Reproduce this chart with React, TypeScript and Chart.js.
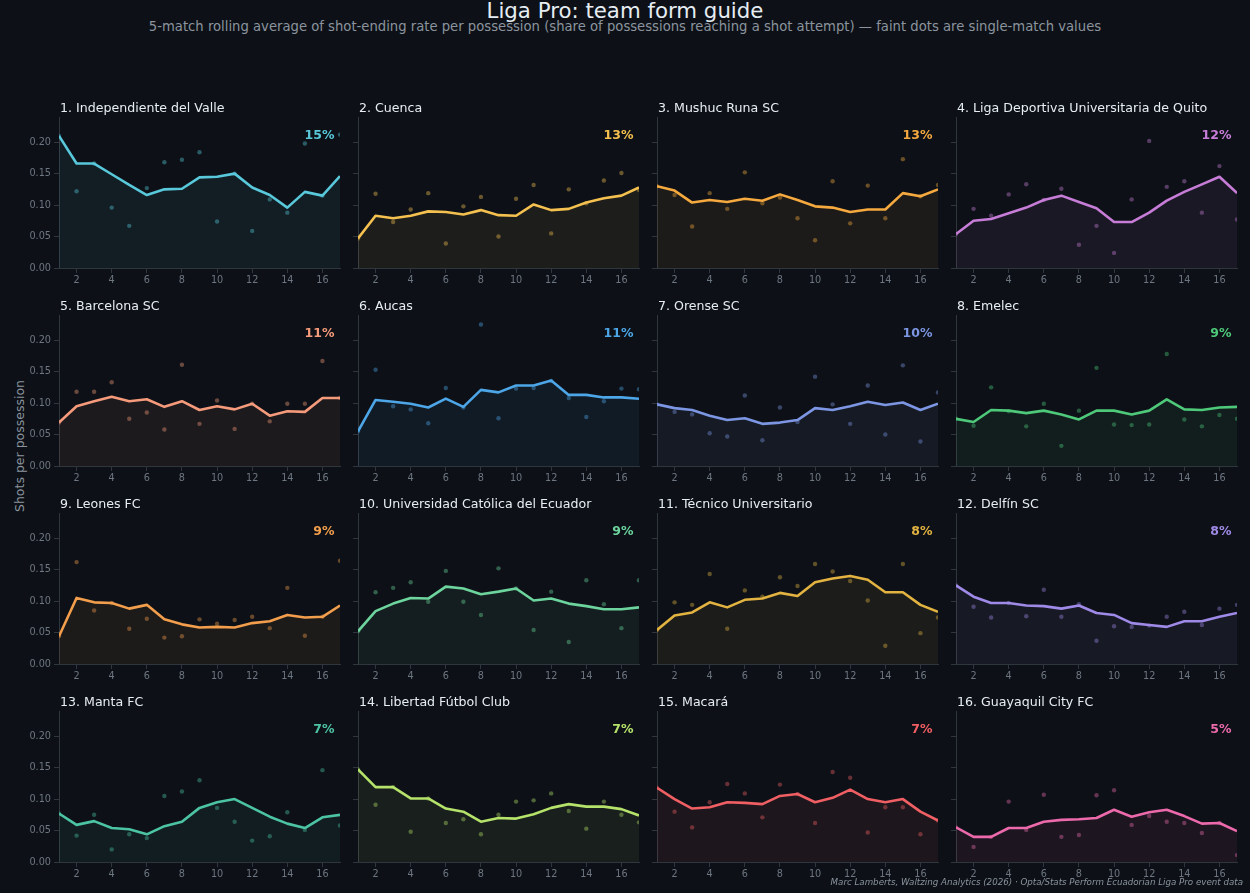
import React, { useEffect, useRef } from "react";
import { Chart, registerables } from "chart.js";

Chart.register(...registerables);

// ---------------- DATA ----------------
const MATCHDAYS = [1, 2, 3, 4, 5, 6, 7, 8, 9, 10, 11, 12, 13, 14, 15, 16, 17];
const X_TICKS = [2, 4, 6, 8, 10, 12, 14, 16];
const Y_TICKS = [0, 0.05, 0.1, 0.15, 0.2];

const TEAM_NAMES = [
  "1. Independiente del Valle",
  "2. Cuenca",
  "3. Mushuc Runa SC",
  "4. Liga Deportiva Universitaria de Quito",
  "5. Barcelona SC",
  "6. Aucas",
  "7. Orense SC",
  "8. Emelec",
  "9. Leones FC",
  "10. Universidad Católica del Ecuador",
  "11. Técnico Universitario",
  "12. Delfín SC",
  "13. Manta FC",
  "14. Libertad Fútbol Club",
  "15. Macará",
  "16. Guayaquil City FC",
];

const SEASON_RATE_LABELS = [
  "15%", "13%", "13%", "12%", "11%", "11%", "10%", "9%",
  "9%", "9%", "8%", "8%", "7%", "7%", "7%", "5%",
];

const IDV_ROLLING = [0.21, 0.166, 0.166, 0.149, 0.132, 0.116, 0.125, 0.126, 0.144, 0.145, 0.15, 0.128, 0.116, 0.096, 0.121, 0.115, 0.146];
const IDV_MATCH = [0.21, 0.122, 0.166, 0.096, 0.067, 0.127, 0.168, 0.172, 0.184, 0.074, 0.15, 0.059, 0.109, 0.088, 0.198, 0.115, 0.212];

const CUENCA_ROLLING = [0.047, 0.083, 0.079, 0.083, 0.09, 0.089, 0.085, 0.092, 0.084, 0.083, 0.101, 0.092, 0.094, 0.104, 0.111, 0.115, 0.128];
const CUENCA_MATCH = [0.047, 0.118, 0.073, 0.093, 0.119, 0.039, 0.098, 0.113, 0.05, 0.11, 0.132, 0.055, 0.125, 0.103, 0.139, 0.151, 0.124];

const MUSHUC_ROLLING = [0.13, 0.123, 0.104, 0.108, 0.105, 0.11, 0.107, 0.117, 0.108, 0.098, 0.096, 0.089, 0.093, 0.093, 0.119, 0.114, 0.125];
const MUSHUC_MATCH = [0.13, 0.116, 0.066, 0.119, 0.094, 0.152, 0.103, 0.112, 0.079, 0.044, 0.138, 0.071, 0.131, 0.079, 0.173, 0.114, 0.132];

const LDU_ROLLING = [0.054, 0.075, 0.078, 0.087, 0.096, 0.108, 0.115, 0.105, 0.095, 0.073, 0.073, 0.088, 0.107, 0.121, 0.133, 0.145, 0.119];
const LDU_MATCH = [0.054, 0.094, 0.083, 0.117, 0.133, 0.108, 0.126, 0.037, 0.067, 0.024, 0.109, 0.202, 0.129, 0.138, 0.088, 0.162, 0.077];

const BARCELONA_ROLLING = [0.069, 0.095, 0.103, 0.11, 0.103, 0.106, 0.094, 0.103, 0.089, 0.095, 0.09, 0.099, 0.08, 0.087, 0.086, 0.108, 0.108];
const BARCELONA_MATCH = [0.069, 0.118, 0.118, 0.133, 0.075, 0.085, 0.058, 0.161, 0.067, 0.104, 0.059, 0.099, 0.071, 0.099, 0.099, 0.167, 0.108];

const AUCAS_ROLLING = [0.055, 0.105, 0.102, 0.099, 0.093, 0.107, 0.094, 0.121, 0.117, 0.128, 0.128, 0.136, 0.113, 0.113, 0.109, 0.109, 0.107];
const AUCAS_MATCH = [0.055, 0.153, 0.095, 0.09, 0.068, 0.124, 0.093, 0.225, 0.076, 0.123, 0.124, 0.135, 0.108, 0.078, 0.103, 0.123, 0.122];

const ORENSE_ROLLING = [0.098, 0.092, 0.089, 0.08, 0.073, 0.076, 0.067, 0.069, 0.073, 0.092, 0.089, 0.095, 0.102, 0.097, 0.101, 0.089, 0.099];
const ORENSE_MATCH = [0.098, 0.086, 0.082, 0.052, 0.047, 0.112, 0.041, 0.093, 0.07, 0.142, 0.098, 0.067, 0.128, 0.05, 0.16, 0.039, 0.117];

const EMELEC_ROLLING = [0.075, 0.07, 0.089, 0.088, 0.084, 0.088, 0.082, 0.074, 0.088, 0.088, 0.082, 0.088, 0.106, 0.09, 0.089, 0.093, 0.094];
const EMELEC_MATCH = [0.075, 0.064, 0.125, 0.087, 0.063, 0.099, 0.032, 0.088, 0.156, 0.066, 0.065, 0.066, 0.178, 0.074, 0.063, 0.081, 0.075];

const LEONES_ROLLING = [0.044, 0.105, 0.098, 0.097, 0.088, 0.094, 0.071, 0.063, 0.058, 0.059, 0.058, 0.065, 0.068, 0.078, 0.074, 0.075, 0.093];
const LEONES_MATCH = [0.044, 0.162, 0.085, 0.097, 0.056, 0.072, 0.042, 0.044, 0.071, 0.064, 0.07, 0.075, 0.057, 0.121, 0.045, 0.075, 0.164];

const UCE_ROLLING = [0.052, 0.084, 0.096, 0.105, 0.104, 0.123, 0.12, 0.111, 0.115, 0.12, 0.101, 0.104, 0.096, 0.092, 0.087, 0.087, 0.09];
const UCE_MATCH = [0.052, 0.114, 0.121, 0.13, 0.099, 0.148, 0.099, 0.078, 0.152, 0.12, 0.054, 0.115, 0.035, 0.133, 0.095, 0.057, 0.133];

const TECNICO_ROLLING = [0.054, 0.077, 0.082, 0.098, 0.09, 0.102, 0.104, 0.113, 0.108, 0.13, 0.136, 0.14, 0.134, 0.114, 0.114, 0.094, 0.083];
const TECNICO_MATCH = [0.054, 0.098, 0.094, 0.143, 0.056, 0.117, 0.107, 0.138, 0.124, 0.159, 0.147, 0.132, 0.101, 0.029, 0.159, 0.049, 0.074];

const DELFIN_ROLLING = [0.125, 0.107, 0.097, 0.097, 0.093, 0.092, 0.088, 0.093, 0.081, 0.078, 0.065, 0.062, 0.059, 0.068, 0.068, 0.075, 0.081];
const DELFIN_MATCH = [0.125, 0.091, 0.074, 0.097, 0.076, 0.118, 0.075, 0.095, 0.037, 0.06, 0.059, 0.061, 0.075, 0.083, 0.062, 0.088, 0.094];

const MANTA_ROLLING = [0.077, 0.059, 0.065, 0.054, 0.052, 0.044, 0.057, 0.064, 0.086, 0.095, 0.1, 0.086, 0.072, 0.061, 0.054, 0.071, 0.075];
const MANTA_MATCH = [0.077, 0.042, 0.075, 0.02, 0.044, 0.038, 0.105, 0.112, 0.13, 0.086, 0.064, 0.034, 0.041, 0.079, 0.051, 0.146, 0.058];

const LIBERTAD_ROLLING = [0.147, 0.119, 0.119, 0.101, 0.101, 0.085, 0.08, 0.064, 0.07, 0.069, 0.076, 0.086, 0.092, 0.088, 0.088, 0.084, 0.074];
const LIBERTAD_MATCH = [0.147, 0.091, 0.119, 0.048, 0.101, 0.062, 0.068, 0.044, 0.075, 0.096, 0.098, 0.109, 0.081, 0.053, 0.096, 0.075, 0.063];

const MACARA_ROLLING = [0.118, 0.1, 0.085, 0.087, 0.095, 0.094, 0.092, 0.105, 0.108, 0.095, 0.102, 0.115, 0.1, 0.095, 0.1, 0.08, 0.066];
const MACARA_MATCH = [0.118, 0.08, 0.055, 0.095, 0.124, 0.109, 0.071, 0.123, 0.108, 0.062, 0.143, 0.134, 0.047, 0.087, 0.087, 0.044, 0.066];

const GCITY_ROLLING = [0.055, 0.04, 0.04, 0.054, 0.054, 0.064, 0.067, 0.068, 0.07, 0.083, 0.072, 0.079, 0.083, 0.073, 0.061, 0.062, 0.049];
const GCITY_MATCH = [0.055, 0.024, 0.04, 0.096, 0.051, 0.107, 0.04, 0.043, 0.106, 0.114, 0.059, 0.073, 0.064, 0.062, 0.046, 0.062, 0.011];

const ROLLING_SERIES = [
  IDV_ROLLING, CUENCA_ROLLING, MUSHUC_ROLLING, LDU_ROLLING,
  BARCELONA_ROLLING, AUCAS_ROLLING, ORENSE_ROLLING, EMELEC_ROLLING,
  LEONES_ROLLING, UCE_ROLLING, TECNICO_ROLLING, DELFIN_ROLLING,
  MANTA_ROLLING, LIBERTAD_ROLLING, MACARA_ROLLING, GCITY_ROLLING,
];
const MATCH_SERIES = [
  IDV_MATCH, CUENCA_MATCH, MUSHUC_MATCH, LDU_MATCH,
  BARCELONA_MATCH, AUCAS_MATCH, ORENSE_MATCH, EMELEC_MATCH,
  LEONES_MATCH, UCE_MATCH, TECNICO_MATCH, DELFIN_MATCH,
  MANTA_MATCH, LIBERTAD_MATCH, MACARA_MATCH, GCITY_MATCH,
];

// ---------------- STYLE ----------------
const TEAM_COLORS = [
  "#58c8da", "#f4c04f", "#f5a93f", "#c77dd8",
  "#f59a7b", "#4da6e8", "#7d96e3", "#4ec97a",
  "#f29e4c", "#6cd49c", "#e3b341", "#a08ae8",
  "#4cc4a4", "#b5e26a", "#ef5f63", "#ec6aac",
];

const FONT = '"DejaVu Sans", "Liberation Sans", sans-serif';
const BG = "#0d1117";
const TEXT_MAIN = "#e6edf3";
const TEXT_SUB = "#8b949e";
const TICK_COLOR = "#6e7681";
const SPINE = "#30363d";

const PLOT_LEFTS = [59, 358, 657, 956];
const PLOT_TOPS = [117, 315, 513, 711];
const PLOT_W = 281;
const PLOT_H = 151;
const Y_AXIS_W = 58;
const TOP_PAD = 36;
const RIGHT_PAD = 10;
const X_AXIS_H = 24;
const CANVAS_W = Y_AXIS_W + PLOT_W + RIGHT_PAD;
const CANVAS_H = TOP_PAD + PLOT_H + X_AXIS_H;

function hexToRgba(hex: string, a: number) {
  const n = parseInt(hex.slice(1), 16);
  return `rgba(${(n >> 16) & 255}, ${(n >> 8) & 255}, ${n & 255}, ${a})`;
}

const panelTextPlugin = {
  id: "panelText",
  afterDraw(chart: any, _args: any, opts: any) {
    const { ctx, chartArea } = chart;
    ctx.save();
    ctx.textBaseline = "alphabetic";
    ctx.font = `12.6px ${FONT}`;
    ctx.fillStyle = TEXT_MAIN;
    ctx.textAlign = "left";
    ctx.fillText(opts.title, chartArea.left + 1, chartArea.top - 5.5);
    ctx.font = `bold 12.5px ${FONT}`;
    ctx.fillStyle = opts.color;
    ctx.textAlign = "right";
    ctx.fillText(opts.label, chartArea.right - 5.5, chartArea.top + 21.5);
    ctx.restore();
  },
};

function Panel({ idx }: { idx: number }) {
  const ref = useRef<HTMLCanvasElement>(null);
  const col = idx % 4;
  const row = Math.floor(idx / 4);

  useEffect(() => {
    const color = TEAM_COLORS[idx];
    const rolling = ROLLING_SERIES[idx];
    const match = MATCH_SERIES[idx];
    const axisCommon = {
      grid: {
        display: true,
        drawOnChartArea: false,
        drawTicks: true,
        tickLength: 5,
        tickWidth: 1,
        tickColor: SPINE,
        color: SPINE,
      },
      border: { display: true, color: SPINE, width: 1 },
    };
    const chart = new Chart(ref.current as HTMLCanvasElement, {
      type: "line",
      data: {
        datasets: [
          {
            type: "line",
            data: MATCHDAYS.map((d, i) => ({ x: d, y: rolling[i] })),
            borderColor: color,
            borderWidth: 2.6,
            borderJoinStyle: "round",
            pointRadius: 0,
            tension: 0,
            fill: "origin",
            backgroundColor: hexToRgba(color, 0.07),
            order: 1,
          },
          {
            type: "scatter",
            data: MATCHDAYS.map((d, i) => ({ x: d, y: match[i] })),
            pointRadius: 2.2,
            pointBackgroundColor: hexToRgba(color, 0.4),
            pointBorderWidth: 0,
            showLine: false,
            order: 2,
          },
        ],
      } as any,
      options: {
        animation: false,
        responsive: false,
        events: [],
        layout: { padding: { left: 0, top: TOP_PAD, right: RIGHT_PAD, bottom: 0 } },
        plugins: {
          legend: { display: false },
          tooltip: { enabled: false },
          filler: { drawTime: "beforeDatasetsDraw" },
          panelText: { title: TEAM_NAMES[idx], label: SEASON_RATE_LABELS[idx], color },
        } as any,
        scales: {
          x: {
            type: "linear",
            min: 1,
            max: 17,
            afterBuildTicks: (s: any) => {
              s.ticks = X_TICKS.map((v) => ({ value: v }));
            },
            afterFit: (s: any) => {
              s.height = X_AXIS_H;
            },
            ...axisCommon,
            ticks: {
              color: TICK_COLOR,
              font: { family: FONT, size: 9.7 },
              padding: 2,
              maxRotation: 0,
              autoSkip: false,
              callback: (v: any) => String(v),
            },
          },
          y: {
            type: "linear",
            min: 0,
            max: 0.24,
            afterBuildTicks: (s: any) => {
              s.ticks = Y_TICKS.map((v) => ({ value: v }));
            },
            afterFit: (s: any) => {
              s.width = Y_AXIS_W;
            },
            ...axisCommon,
            ticks: {
              display: col === 0,
              color: TICK_COLOR,
              font: { family: FONT, size: 9.7 },
              padding: 3,
              callback: (v: any) => Number(v).toFixed(2),
            },
          },
        } as any,
      },
      plugins: [panelTextPlugin as any],
    });
    return () => chart.destroy();
  }, [idx, col]);

  return (
    <canvas
      ref={ref}
      width={CANVAS_W}
      height={CANVAS_H}
      style={{
        position: "absolute",
        left: PLOT_LEFTS[col] - Y_AXIS_W,
        top: PLOT_TOPS[row] - TOP_PAD,
        width: CANVAS_W,
        height: CANVAS_H,
      }}
    />
  );
}

export default function App() {
  useEffect(() => {
    document.body.style.margin = "0";
    document.body.style.background = BG;
  }, []);

  return (
    <div
      style={{
        position: "absolute",
        left: 0,
        top: 0,
        width: 1250,
        height: 893,
        background: BG,
        overflow: "hidden",
        fontFamily: FONT,
      }}
    >
      <div
        style={{
          position: "absolute",
          left: 0,
          width: 1250,
          top: -0.3,
          textAlign: "center",
          fontSize: 21.3,
          lineHeight: "21.3px",
          color: TEXT_MAIN,
          whiteSpace: "nowrap",
        }}
      >
        Liga Pro: team form guide
      </div>
      <div
        style={{
          position: "absolute",
          left: 0,
          width: 1250,
          top: 20.3,
          textAlign: "center",
          fontSize: 13.2,
          lineHeight: "13.2px",
          color: TEXT_SUB,
          whiteSpace: "nowrap",
        }}
      >
        5-match rolling average of shot-ending rate per possession (share of possessions reaching a shot attempt) — faint dots are single-match values
      </div>
      <div
        style={{
          position: "absolute",
          left: 19.7,
          top: 446,
          width: 200,
          textAlign: "center",
          fontSize: 12.5,
          lineHeight: "12.5px",
          color: TEXT_SUB,
          whiteSpace: "nowrap",
          transform: "translate(-50%, -50%) rotate(-90deg)",
        }}
      >
        Shots per possession
      </div>
      {TEAM_NAMES.map((_, i) => (
        <Panel key={i} idx={i} />
      ))}
      <div
        style={{
          position: "absolute",
          right: 7,
          top: 877.6,
          fontSize: 8.7,
          lineHeight: "8.7px",
          fontStyle: "italic",
          color: TEXT_SUB,
          whiteSpace: "nowrap",
        }}
      >
        Marc Lamberts, Waltzing Analytics (2026) · Opta/Stats Perform Ecuadorian Liga Pro event data
      </div>
    </div>
  );
}
